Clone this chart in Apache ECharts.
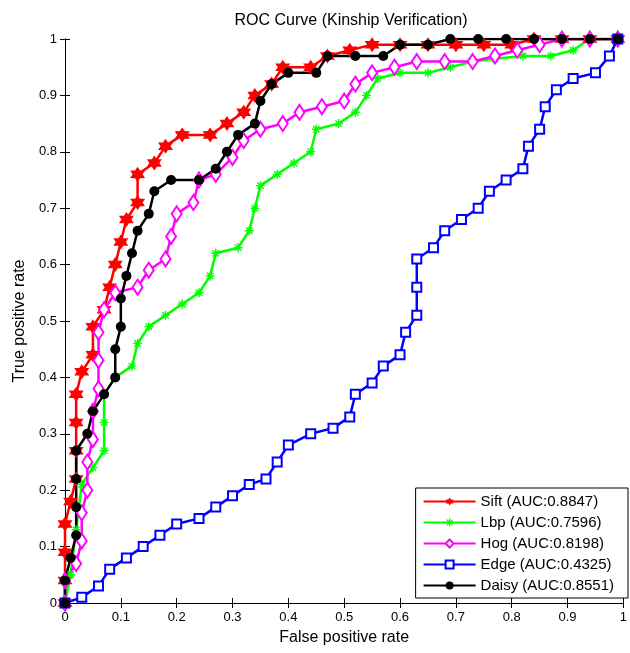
<!DOCTYPE html>
<html>
<head>
<meta charset="utf-8">
<script src="https://cdn.jsdelivr.net/npm/echarts@6/dist/echarts.min.js"></script>
<style>
  html, body { margin: 0; padding: 0; background: #fff; }
  #chart { width: 630px; height: 653px; }
</style>
</head>
<body>
<div id="chart"></div>
<script>
// points [false positive rate, true positive rate]
const siftData = [[0,0],[0,0.04],[0,0.09],[0,0.14],[0.01,0.18],[0.02,0.22],[0.02,0.27],[0.02,0.32],[0.02,0.37],
  [0.03,0.41],[0.05,0.44],[0.05,0.49],[0.07,0.52],[0.08,0.56],[0.09,0.60],[0.10,0.64],[0.11,0.68],[0.13,0.71],
  [0.13,0.76],[0.16,0.78],[0.18,0.81],[0.21,0.83],[0.26,0.83],[0.29,0.85],[0.32,0.87],[0.34,0.90],[0.37,0.92],
  [0.39,0.95],[0.44,0.95],[0.47,0.97],[0.51,0.98],[0.55,0.99],[0.60,0.99],[0.65,0.99],[0.70,0.99],[0.75,0.99],
  [0.80,0.99],[0.84,1],[0.89,1],[0.94,1],[0.99,1]];
const lbpData = [[0,0],[0.01,0.05],[0.02,0.13],[0.03,0.21],[0.05,0.24],[0.07,0.27],[0.07,0.32],[0.07,0.37],
  [0.09,0.40],[0.12,0.42],[0.13,0.46],[0.15,0.49],[0.18,0.51],[0.21,0.53],[0.24,0.55],[0.26,0.58],[0.27,0.62],
  [0.31,0.63],[0.33,0.66],[0.34,0.70],[0.35,0.74],[0.38,0.76],[0.41,0.78],[0.44,0.80],[0.45,0.84],[0.49,0.85],
  [0.52,0.87],[0.54,0.90],[0.56,0.93],[0.60,0.94],[0.65,0.94],[0.69,0.95],[0.73,0.96],[0.77,0.965],[0.82,0.97],
  [0.87,0.97],[0.91,0.98],[0.94,1],[0.99,1]];
const hogData = [[0,0],[0,0.04],[0.02,0.07],[0.03,0.11],[0.03,0.16],[0.04,0.20],[0.04,0.25],[0.05,0.29],
  [0.05,0.34],[0.06,0.38],[0.06,0.43],[0.06,0.48],[0.07,0.52],[0.09,0.55],[0.13,0.56],[0.15,0.59],[0.18,0.61],
  [0.19,0.65],[0.20,0.69],[0.23,0.71],[0.24,0.75],[0.27,0.76],[0.30,0.79],[0.32,0.82],[0.35,0.84],[0.39,0.85],
  [0.42,0.87],[0.46,0.88],[0.50,0.89],[0.52,0.92],[0.55,0.94],[0.59,0.95],[0.63,0.96],[0.68,0.96],[0.73,0.96],
  [0.77,0.97],[0.81,0.98],[0.85,0.99],[0.89,1],[0.94,1],[0.99,1]];
const edgeData = [[0,0],[0.03,0.01],[0.06,0.03],[0.08,0.06],[0.11,0.08],[0.14,0.10],[0.17,0.12],[0.20,0.14],
  [0.24,0.15],[0.27,0.17],[0.30,0.19],[0.33,0.21],[0.36,0.22],[0.38,0.25],[0.40,0.28],[0.44,0.30],[0.48,0.31],
  [0.51,0.33],[0.52,0.37],[0.55,0.39],[0.57,0.42],[0.60,0.44],[0.61,0.48],[0.63,0.51],[0.63,0.56],[0.63,0.61],
  [0.66,0.63],[0.68,0.66],[0.71,0.68],[0.74,0.70],[0.76,0.73],[0.79,0.75],[0.82,0.77],[0.83,0.81],[0.85,0.84],
  [0.86,0.88],[0.88,0.91],[0.91,0.93],[0.95,0.94],[0.975,0.97],[0.99,1]];
const daisyData = [[0,0],[0,0.04],[0.01,0.08],[0.02,0.12],[0.02,0.17],[0.02,0.22],[0.02,0.27],[0.04,0.30],
  [0.05,0.34],[0.07,0.37],[0.09,0.40],[0.09,0.45],[0.10,0.49],[0.10,0.54],[0.11,0.58],[0.12,0.62],[0.13,0.66],
  [0.15,0.69],[0.16,0.73],[0.19,0.75],[0.24,0.75],[0.27,0.77],[0.29,0.80],[0.31,0.83],[0.34,0.85],[0.35,0.89],
  [0.37,0.92],[0.40,0.94],[0.45,0.94],[0.47,0.97],[0.52,0.97],[0.57,0.97],[0.60,0.99],[0.65,0.99],[0.69,1],
  [0.74,1],[0.79,1],[0.84,1],[0.89,1],[0.94,1],[0.99,1]];

const names = ['Sift (AUC:0.8847)', 'Lbp (AUC:0.7596)', 'Hog (AUC:0.8198)', 'Edge (AUC:0.4325)', 'Daisy (AUC:0.8551)'];
const colors = ['#ff0000', '#00ff00', '#ff00ff', '#0000ff', '#000000'];

// matlab-ish marker shapes
function hexagramPath() {
  let pts = [];
  for (let i = 0; i < 12; i++) {
    let r = i % 2 === 0 ? 10 : 5.8;
    let a = Math.PI / 2 + i * Math.PI / 6;
    pts.push((10 + r * Math.cos(a)).toFixed(2) + ' ' + (10 - r * Math.sin(a)).toFixed(2));
  }
  return 'path://M' + pts.join(' L') + ' Z';
}
function asteriskPath() {
  let d = '';
  [0, 45, 90, 135].forEach(deg => {
    let a = deg * Math.PI / 180, w = 1.6, l = 10;
    let c = Math.cos(a), s = Math.sin(a);
    let p = [[-l, -w], [l, -w], [l, w], [-l, w]].map(q =>
      (10 + q[0] * c - q[1] * s).toFixed(2) + ' ' + (10 + q[0] * s + q[1] * c).toFixed(2));
    d += 'M' + p.join(' L') + ' Z ';
  });
  return 'path://' + d;
}

const chart = echarts.init(document.getElementById('chart'));
const font = 'Liberation Sans, Arial, sans-serif';

function makeSeries(name, data, color, symbol, size, fill) {
  return {
    name: name, type: 'line', data: data,
    symbol: symbol, symbolSize: size, showAllSymbol: true,
    lineStyle: { color: color, width: 2.5 },
    itemStyle: { color: fill, borderColor: color, borderWidth: fill === color ? 0 : 2 },
    emphasis: { disabled: true },
    animation: false, z: 2
  };
}

const axisCommon = {
  type: 'value', min: 0, max: 1, interval: 0.1,
  axisLine: { show: true, lineStyle: { color: '#000', width: 1 } },
  axisTick: { show: true, inside: true, length: 5, lineStyle: { color: '#000' } },
  splitLine: { show: false }
};

chart.setOption({
  backgroundColor: '#fff',
  title: {
    text: 'ROC Curve (Kinship Verification)', left: 346, top: 8, textAlign: 'center',
    textStyle: { fontFamily: font, fontSize: 16, fontWeight: 'normal', color: '#000' }
  },
  grid: { left: 65, right: 3, top: 39, bottom: 50 },
  xAxis: [
    Object.assign({}, axisCommon, {
      position: 'bottom', name: 'False positive rate', nameLocation: 'middle', nameGap: 27,
      nameTextStyle: { fontFamily: font, fontSize: 16, color: '#000' },
      axisLabel: { fontFamily: font, fontSize: 13, color: '#000', margin: 8 }
    }),
    Object.assign({}, axisCommon, { position: 'top', axisLabel: { show: false } })
  ],
  yAxis: [
    Object.assign({}, axisCommon, {
      position: 'left', name: 'True positive rate', nameLocation: 'middle', nameGap: 36,
      nameTextStyle: { fontFamily: font, fontSize: 16, color: '#000' },
      axisLabel: { fontFamily: font, fontSize: 13, color: '#000', margin: 8 }
    }),
    Object.assign({}, axisCommon, { position: 'right', axisLabel: { show: false } })
  ],
  legend: {
    orient: 'vertical', right: 2, bottom: 55,
    backgroundColor: '#fff', borderColor: '#000', borderWidth: 1,
    padding: [6, 14, 5, 7], itemGap: 6, itemWidth: 52, itemHeight: 10,
    textStyle: { fontFamily: font, fontSize: 15, color: '#000' },
    data: names
  },
  series: [
    makeSeries(names[0], siftData, colors[0], hexagramPath(), 15, colors[0]),
    makeSeries(names[1], lbpData, colors[1], asteriskPath(), 9, colors[1]),
    makeSeries(names[2], hogData, colors[2], 'diamond', [10, 15], '#fff'),
    makeSeries(names[3], edgeData, colors[3], 'rect', 9, '#fff'),
    makeSeries(names[4], daisyData, colors[4], 'circle', 10, colors[4])
  ]
});
</script>
</body>
</html>
